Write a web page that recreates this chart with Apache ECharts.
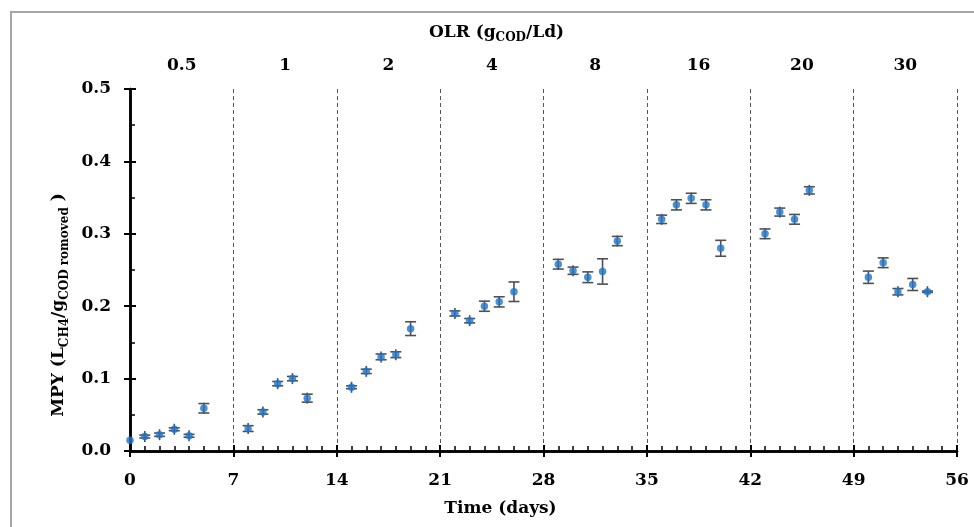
<!DOCTYPE html>
<html>
<head>
<meta charset="utf-8">
<script src="https://cdn.jsdelivr.net/npm/echarts@6/dist/echarts.min.js"></script>
<style>
html,body{margin:0;padding:0;background:#fff;}
#chart{width:974px;height:527px;}
</style>
</head>
<body>
<div id="chart"></div>
<script>
// ---- data ----
const days = [0,1,2,3,4,5, 8,9,10,11,12, 15,16,17,18,19, 22,23,24,25,26, 29,30,31,32,33, 36,37,38,39,40, 43,44,45,46, 50,51,52,53,54];
const mpy  = [0.015,0.020,0.0225,0.030,0.021,0.059, 0.031,0.054,0.093,0.100,0.073, 0.088,0.110,0.130,0.133,0.169, 0.190,0.180,0.200,0.206,0.220, 0.258,0.249,0.240,0.248,0.290, 0.320,0.340,0.349,0.340,0.280, 0.300,0.330,0.320,0.360, 0.240,0.260,0.220,0.230,0.220];
const errs = [0,0.002,0.0023,0.002,0.002,0.0065, 0.004,0.003,0.003,0.003,0.0055, 0.002,0.003,0.004,0.004,0.0095, 0.0035,0.003,0.007,0.007,0.0135, 0.0067,0.005,0.0074,0.0175,0.0064, 0.0058,0.007,0.007,0.007,0.011, 0.0067,0.0055,0.0067,0.005, 0.0085,0.0067,0.0044,0.0083,0.001];
const olrLabels = ['0.5','1','2','4','8','16','20','30'];
const xTicks = [0,7,14,21,28,35,42,49,56];
const yTicks = [0.0,0.1,0.2,0.3,0.4,0.5];

const FONT = 'DejaVu Serif';
const points = days.map((d,i)=>[d, mpy[i], errs[i]]);

const chart = echarts.init(document.getElementById('chart'));
const baseLabel = {fontFamily: FONT, fontWeight: 'bold', fontSize: 17, color: '#000'};
const subStyle = {fontFamily: FONT, fontWeight: 'bold', fontSize: 12, color: '#000', verticalAlign: 'bottom', lineHeight: 23};
const axisLineStyle = {color: '#000', width: 2.5};

const option = {
  animation: false,
  backgroundColor: '#fff',
  graphic: [{
    type: 'rect', shape: {x: 11, y: 12, width: 1000, height: 600},
    style: {fill: 'none', stroke: '#a6a6a6', lineWidth: 2}, z: -10
  }],
  grid: {left: 130, right: 17, top: 89, bottom: 76, containLabel: false},
  xAxis: [
    {
      type: 'value', position: 'bottom', min: xTicks[0], max: xTicks[xTicks.length-1], interval: 7,
      axisLine: {show: true, onZero: false, lineStyle: axisLineStyle},
      axisTick: {show: true, inside: true, length: 6, lineStyle: {color: '#000', width: 2}},
      minorTick: {show: true, splitNumber: 7, length: 5, lineStyle: {color: '#000', width: 1.5}},
      splitLine: {show: true, lineStyle: {color: '#555', type: [4, 3], width: 1}},
      axisLabel: Object.assign({margin: 21}, baseLabel),
      name: 'Time (days)', nameLocation: 'middle', nameGap: 49,
      nameTextStyle: Object.assign({padding: [0, 86, 0, 0]}, baseLabel)
    },
    {
      type: 'value', position: 'bottom', min: xTicks[0], max: xTicks[xTicks.length-1], interval: 7,
      axisLine: {show: false},
      axisTick: {show: true, inside: false, length: 6, lineStyle: {color: '#000', width: 2}},
      splitLine: {show: false}, axisLabel: {show: false}
    },
    {
      type: 'category', position: 'top', data: olrLabels, boundaryGap: true,
      axisLine: {show: true, lineStyle: axisLineStyle},
      axisTick: {show: true, inside: true, length: 5, interval: 0, lineStyle: {color: '#000', width: 1.5}},
      axisLabel: Object.assign({margin: 15, interval: 0}, baseLabel),
      splitLine: {show: false},
      name: '{m|OLR (g}{s|COD}{m|/Ld)}', nameLocation: 'middle', nameGap: 45,
      nameTextStyle: {padding: [0, 94, 0, 0], rich: {
        m: Object.assign({lineHeight: 23}, baseLabel),
        s: subStyle
      }}
    }
  ],
  yAxis: [
    {
      type: 'value', position: 'left', min: yTicks[0], max: yTicks[yTicks.length-1], interval: 0.1,
      axisLine: {show: true, onZero: false, lineStyle: axisLineStyle},
      axisTick: {show: true, inside: true, length: 6, lineStyle: {color: '#000', width: 2}},
      minorTick: {show: true, splitNumber: 2, length: 5, lineStyle: {color: '#000', width: 1.5}},
      splitLine: {show: false},
      axisLabel: Object.assign({margin: 19, formatter: v => v.toFixed(1)}, baseLabel),
      name: '{m|MPY (L}{s|CH4}{m|/g}{s|COD romoved}{m| )}', nameLocation: 'middle', nameGap: 56,
      nameTextStyle: {padding: [0, 70, 0, 0], rich: {
        m: Object.assign({lineHeight: 23}, baseLabel),
        s: subStyle
      }}
    },
    {
      type: 'value', position: 'left', min: yTicks[0], max: yTicks[yTicks.length-1], interval: 0.1,
      axisLine: {show: false},
      axisTick: {show: true, inside: false, length: 6, lineStyle: {color: '#000', width: 2}},
      splitLine: {show: false}, axisLabel: {show: false}
    },
    {
      type: 'value', position: 'right', min: yTicks[0], max: yTicks[yTicks.length-1], interval: 0.1,
      axisLine: {show: true, lineStyle: axisLineStyle},
      axisTick: {show: false}, splitLine: {show: false}, axisLabel: {show: false}
    }
  ],
  series: [
    {
      type: 'custom', xAxisIndex: 0, yAxisIndex: 0, data: points, z: 3, clip: false,
      renderItem: function (params, api) {
        const x = api.value(0), y = api.value(1), e = api.value(2);
        if (!(e > 0)) return null;
        const c = api.coord([x, y]);
        const hi = api.coord([x, y + e]);
        const lo = api.coord([x, y - e]);
        const cap = 5.5;
        const top = Math.min(hi[1], c[1] - 5.5);
        const bot = Math.max(lo[1], c[1] + 5.5);
        const st = {stroke: '#505050', lineWidth: 1.6, fill: null};
        return {type: 'group', children: [
          {type: 'line', shape: {x1: c[0], y1: top, x2: c[0], y2: bot}, style: st},
          {type: 'line', shape: {x1: c[0]-cap, y1: hi[1], x2: c[0]+cap, y2: hi[1]}, style: st},
          {type: 'line', shape: {x1: c[0]-cap, y1: lo[1], x2: c[0]+cap, y2: lo[1]}, style: st}
        ]};
      }
    },
    {
      type: 'scatter', xAxisIndex: 0, yAxisIndex: 0, data: points, z: 4,
      symbol: 'circle', symbolSize: 7.5,
      itemStyle: {color: '#1f74cc'}
    }
  ]
};
chart.setOption(option);
</script>
</body>
</html>
